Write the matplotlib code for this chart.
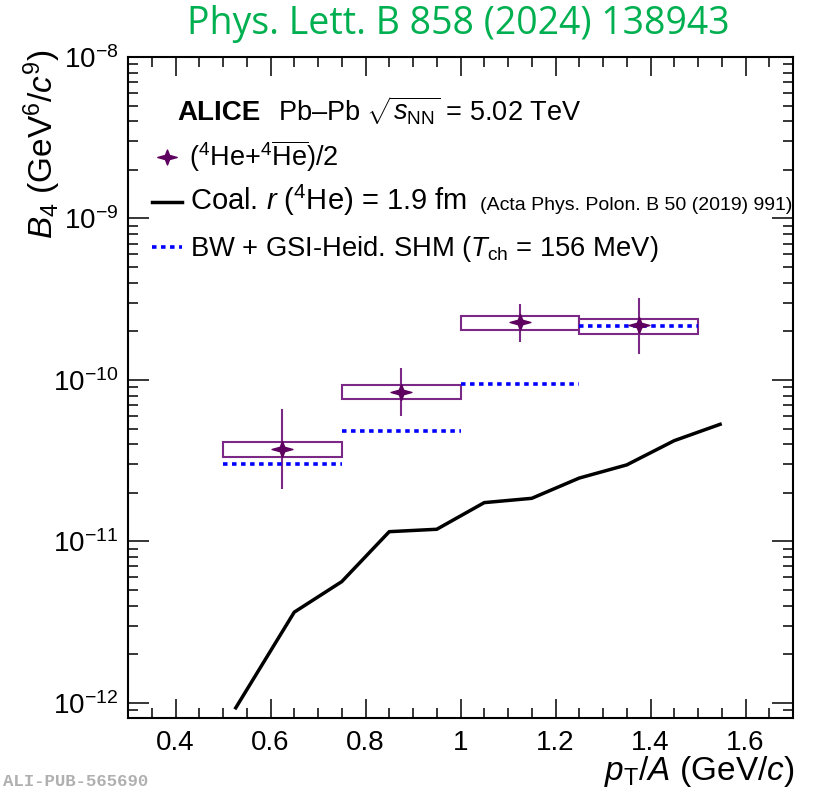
import matplotlib
matplotlib.use("Agg")
import matplotlib.pyplot as plt
import numpy as np
from matplotlib.path import Path
from matplotlib.lines import Line2D
from matplotlib.ticker import FixedLocator, FixedFormatter, LogLocator, NullFormatter

# ---------------- data ----------------
bin_lo = [0.50, 0.75, 1.00, 1.25]
bin_hi = [0.75, 1.00, 1.25, 1.50]
pt_center = [0.625, 0.875, 1.125, 1.375]
b4 = [3.74e-11, 8.47e-11, 2.28e-10, 2.19e-10]
stat_up = [2.86e-11, 3.43e-11, 6.8e-11, 1.03e-10]
stat_down = [1.63e-11, 2.46e-11, 5.5e-11, 7.5e-11]
syst_up = [0.39e-11, 0.88e-11, 2.1e-11, 2.1e-11]
syst_down = [0.41e-11, 0.85e-11, 2.3e-11, 2.5e-11]

shm_b4 = [3.02e-11, 4.81e-11, 9.4e-11, 2.16e-10]

coal_pt = [0.525, 0.65, 0.75, 0.85, 0.95, 1.05, 1.15, 1.25, 1.35, 1.45, 1.55]
coal_b4 = [9.14e-13, 3.65e-12, 5.64e-12, 1.15e-11, 1.19e-11, 1.74e-11,
           1.85e-11, 2.47e-11, 2.98e-11, 4.21e-11, 5.36e-11]

xtick_vals = [0.4, 0.6, 0.8, 1.0, 1.2, 1.4, 1.6]
xtick_labels = ["0.4", "0.6", "0.8", "1", "1.2", "1.4", "1.6"]

# ---------------- style ----------------
plt.rcParams["font.family"] = ["Liberation Sans", "DejaVu Sans"]
plt.rcParams["mathtext.fontset"] = "custom"
plt.rcParams["mathtext.rm"] = "Liberation Sans"
plt.rcParams["mathtext.it"] = "Liberation Sans:italic"
plt.rcParams["mathtext.bf"] = "Liberation Sans:bold"
plt.rcParams["mathtext.sf"] = "Liberation Sans"

W, H = 820, 800
fig = plt.figure(figsize=(W / 100, H / 100), dpi=100)
ax = fig.add_axes([128 / W, (H - 718) / H, 665 / W, 661 / H])

def fp(x, y):
    return x / W, 1 - y / H

purple_dark = "#5e005f"
purple_line = "#7a2a86"
blue = "#0000ff"

# star marker (4-point, wider than tall)
sv = [(1.3, 0), (0.28, 0.28), (0, 1), (-0.28, 0.28), (-1.3, 0), (-0.28, -0.28),
      (0, -1), (0.28, -0.28), (1.3, 0)]
star = Path(sv, [Path.MOVETO] + [Path.LINETO] * 7 + [Path.CLOSEPOLY])

b4a = np.array(b4)
su = np.array(syst_up)
sd = np.array(syst_down)
lo = np.array(bin_lo)
hi = np.array(bin_hi)

# systematic boxes
ax.bar(pt_center, su + sd, bottom=b4a - sd, width=hi - lo, fill=False,
       edgecolor=purple_line, linewidth=1.5, zorder=2)
# statistical error bars
ax.errorbar(pt_center, b4, yerr=[stat_down, stat_up], fmt="none",
            ecolor=purple_line, elinewidth=1.5, capsize=0, zorder=3)
# SHM
ax.hlines(shm_b4, bin_lo, bin_hi, colors=blue, linewidth=2.6,
          linestyles=(0, (1.25, 1.25)), zorder=4)
# coalescence
ax.plot(coal_pt, coal_b4, color="black", linewidth=2.5, zorder=4,
        solid_capstyle="butt")
# data points
ax.plot(pt_center, b4, linestyle="none", marker=star, markersize=15,
        color=purple_dark, zorder=5)

ax.set_yscale("log")
ax.set_xlim(0.3, 1.7)
ax.set_ylim(8.07e-13, 1e-8)

ax.xaxis.set_major_locator(FixedLocator(xtick_vals))
ax.xaxis.set_major_formatter(FixedFormatter(xtick_labels))
ax.xaxis.set_minor_locator(FixedLocator(np.arange(0.3, 1.7001, 0.05)))
ax.yaxis.set_major_locator(LogLocator(base=10, numticks=20))
ax.yaxis.set_minor_locator(LogLocator(base=10, subs=np.arange(2, 10), numticks=20))
ax.yaxis.set_minor_formatter(NullFormatter())

ax.tick_params(axis="both", which="both", direction="in", top=True, right=True,
               labelsize=20, width=1.1)
ax.tick_params(axis="x", which="major", length=13.5, pad=8.5)
ax.tick_params(axis="x", which="minor", length=7)
ax.tick_params(axis="y", which="major", length=15, pad=7)
ax.tick_params(axis="y", which="minor", length=7.5)
for s in ax.spines.values():
    s.set_linewidth(1.5)

ax.set_xlabel(r"$p_{\mathrm{T}}$/$A$ (GeV/$c$)", fontsize=24, loc="right")
ax.xaxis.set_label_coords(1.002, -0.054)
ax.set_ylabel(r"$B_{4}$ (GeV$^{6}$/$c^{9}$)", fontsize=24, loc="top")
ax.yaxis.set_label_coords(-0.097, 1.012)

# title
fig.text(*fp(458, 34), "Phys. Lett. B 858 (2024) 138943", fontsize=27,
         family="Open Sans", color="#00b050", ha="center", va="baseline")

# ALICE header
fig.text(*fp(177, 120.5), "ALICE", fontsize=20, fontweight="bold", va="baseline")
fig.text(*fp(278, 120.5), r"Pb–Pb $\sqrt{s_{\mathrm{NN}}}$ = 5.02 TeV", fontsize=19.5, va="baseline")

# legend
fig.add_artist(Line2D([fp(167, 157)[0]], [fp(167, 157)[1]], linestyle="none",
                      marker=star, markersize=14, color=purple_dark,
                      transform=fig.transFigure))
fig.text(*fp(189, 165.5), r"($^{4}$He+$^{4}\overline{\mathrm{He}}$)/2", fontsize=19.5, va="baseline")

fig.add_artist(Line2D([fp(152, 0)[0], fp(182.5, 0)[0]], [fp(0, 201.7)[1]] * 2,
                      color="black", linewidth=2.5, transform=fig.transFigure))
fig.text(*fp(190, 210.5), r"Coal. $r$ ($^{4}$He) = 1.9 fm", fontsize=21, va="baseline")
fig.text(*fp(480, 210.5), "(Acta Phys. Polon. B 50 (2019) 991)", fontsize=14, va="baseline")

fig.add_artist(Line2D([fp(152.5, 0)[0], fp(182, 0)[0]], [fp(0, 247)[1]] * 2,
                      color=blue, linewidth=2.6, linestyle=(0, (1.25, 1.25)),
                      transform=fig.transFigure))
fig.text(*fp(190, 256), r"BW + GSI-Heid. SHM ($T_{\mathrm{ch}}$ = 156 MeV)", fontsize=19.7, va="baseline")

# publication id
fig.text(*fp(3, 786), "ALI-PUB-565690", fontsize=12.5, family="Liberation Mono",
         fontweight="bold", color="#b0b0b0", va="baseline")

fig.savefig("out.png", dpi=100)
